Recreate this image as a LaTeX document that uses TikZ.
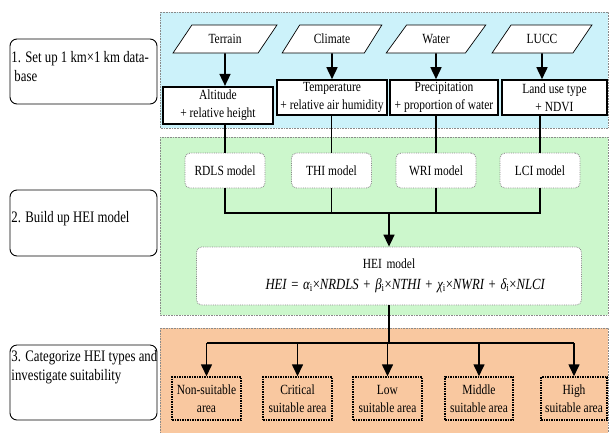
\documentclass[tikz,border=0pt]{standalone}
\usepackage{fontspec}
\setmainfont{Liberation Serif}[FakeStretch=0.82]
\newfontfamily\labelfont{Liberation Serif}[FakeStretch=0.8]
\usetikzlibrary{arrows.meta,positioning,shapes.geometric}
\definecolor{hcblue}{HTML}{CCF2FA}
\definecolor{hcgreen}{HTML}{CCF7CC}
\definecolor{hcorange}{HTML}{F9C8A0}
\definecolor{hcgrey}{HTML}{8A8A8A}

\begin{document}
\begin{tikzpicture}[x=1pt,y=-1pt,
  font=\fontsize{14}{18}\selectfont,
  panel/.style={draw=hcgrey,densely dotted,line width=0.6pt},
  stepbox/.style={draw,line width=0.9pt,rounded corners=7pt,fill=white,inner xsep=1.5pt,inner ysep=0pt,font=\labelfont\fontsize{16}{19.5}\selectfont},
  source/.style={draw,line width=0.7pt,fill=white,trapezium,trapezium left angle=45,trapezium right angle=135,trapezium stretches=true,minimum width=100pt,minimum height=28pt,inner sep=0pt},
  factor/.style={draw,line width=1.6pt,fill=white,align=center,minimum height=35pt,inner sep=0pt},
  model/.style={draw=hcgrey,densely dotted,line width=0.8pt,rounded corners=5pt,fill=white,minimum width=80pt,minimum height=35pt},
  area/.style={draw,densely dotted,line width=1.5pt,align=center,minimum width=69pt,minimum height=43pt,inner sep=0pt},
  link/.style={line width=1.6pt},
  >={Triangle[width=11pt,length=12pt]}]
\useasboundingbox (0,0) rectangle (610,432);
\filldraw[panel,fill=hcblue] (160,12) rectangle (608,128);
\filldraw[panel,fill=hcgreen] (160,137) rectangle (608,315);
\filldraw[panel,fill=hcorange] (160,328) rectangle (608,440);
\node[stepbox] (s1) at (83.5,71.5) {\parbox[c][65pt][t]{144pt}{\vspace*{12pt}\raggedright\mbox{1. Set up 1 km×1 km data-}\\\hspace*{3pt}base}};
\node[stepbox] (s2) at (83.5,223) {\parbox[c][66pt][t]{144pt}{\vspace*{21pt}\raggedright\mbox{2. Build up HEI model}}};
\node[stepbox] (s3) at (83.5,382.5) {\parbox[c][75pt][t]{144pt}{\vspace*{5pt}\raggedright\mbox{3. Categorize HEI types and}\\\mbox{investigate suitability}}};
\node[source,minimum width=104pt] (terrain) at (225,39) {Terrain};
\node[source] (climate) at (332,39) {Climate};
\node[source] (water) at (436,39) {Water};
\node[source] (lucc) at (542,39) {LUCC};
\node[factor,line width=2.2pt,minimum width=110pt,minimum height=37pt] (alt) at (218,105.5) {Altitude\\+ relative height};
\node[factor,minimum width=110pt] (temp) at (332,97.5) {Temperature\\+ relative air humidity};
\node[factor,minimum width=108pt] (prec) at (444,97.5) {Precipitation\\+ proportion of water};
\node[factor,minimum width=105pt] (land) at (554.5,97.5) {Land use type\\+ NDVI};
\node[model] (rdls) at (225,170.5) {RDLS model};
\node[model] (thi) at (331.5,170.5) {THI model};
\node[model] (wri) at (436,170.5) {WRI model};
\node[model] (lci) at (540,170.5) {LCI model};
\node[model,minimum height=58pt,inner xsep=5pt,text width=375pt,align=center] (hei) at (389,276) {HEI model\\[3pt]\makebox[375pt][l]{\fontsize{15.5}{18}\selectfont\hspace*{64pt}{\itshape HEI} = {\itshape α}\textsubscript{i}×{\itshape NRDLS} + {\itshape β}\textsubscript{i}×{\itshape NTHI} + {\itshape χ}\textsubscript{i}×{\itshape NWRI} + {\itshape δ}\textsubscript{i}×{\itshape NLCI}}};
\node[area] (non) at (206.5,398.5) {Non-suitable\\area};
\node[area] (crit) at (297.5,398.5) {Critical\\suitable area};
\node[area] (low) at (387.5,398.5) {Low\\suitable area};
\node[area,minimum width=68pt] (mid) at (479,398.5) {Middle\\suitable area};
\node[area,minimum width=66pt] (high) at (574,398.5) {High\\suitable area};
\coordinate (join) at (389,213);
\coordinate (split) at (389,343);
\draw[->,link] (terrain) -- (terrain |- alt.north);
\draw[->,link] (climate) -- (climate |- temp.north);
\draw[->,link] (water) -- (water |- prec.north);
\draw[->,link] (lucc) -- (lucc |- land.north);
\draw[link] (rdls |- alt.south) -- (rdls);
\draw[link] (thi |- temp.south) -- (thi);
\draw[link] (wri |- prec.south) -- (wri);
\draw[link] (lci |- land.south) -- (lci);
\draw[link] (rdls) |- (join) -| (lci);
\draw[link] (thi) -- (thi |- join);
\draw[link] (wri) -- (wri |- join);
\draw[->,link] (join) -- (hei);
\draw[link] (hei) -- (split);
\draw[link] (non |- split) -- (high |- split);
\foreach \a in {non,crit,low,mid,high}
  \draw[->,link] (\a |- split) -- (\a);
\end{tikzpicture}
\end{document}
